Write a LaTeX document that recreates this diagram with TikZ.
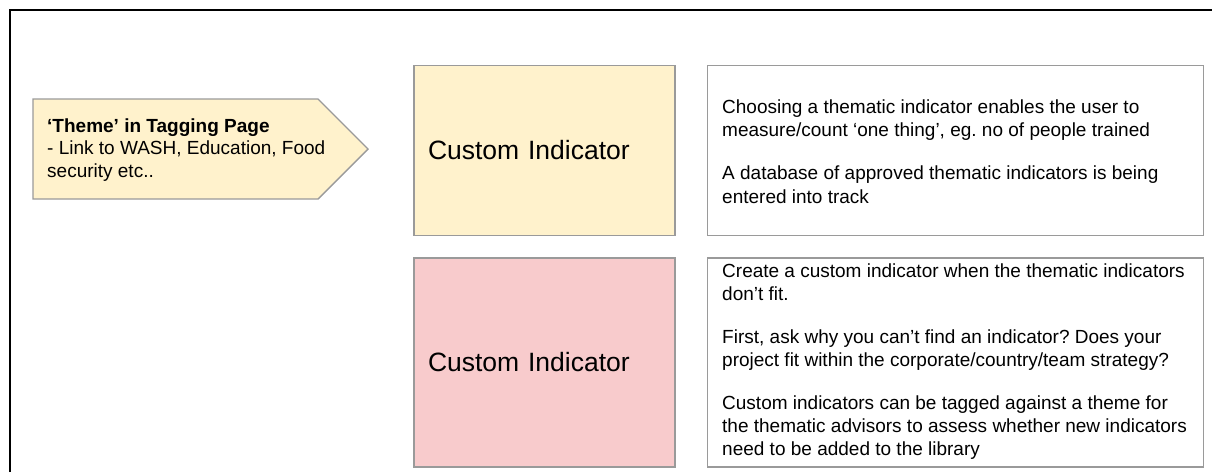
\documentclass[tikz,border=0pt]{standalone}
\usepackage{fontspec}
\setmainfont{Liberation Sans}[Ligatures=ResetAll]
\frenchspacing
\definecolor{paleyellow}{HTML}{FFF2CC}
\definecolor{palepink}{HTML}{F8CBCC}
\definecolor{boxgray}{HTML}{9A9A9A}
\tikzset{
  frame/.style={draw=black, line width=1.3pt},
  boxborder/.style={draw=boxgray, line width=1.4pt},
  colorbox/.style={boxborder, rectangle, minimum width=261pt, minimum height=170pt,
    inner xsep=14pt, text width=233pt, align=left, font=\fontsize{26.5}{30}\selectfont},
  plainbox/.style={boxborder, rectangle, fill=white, minimum width=496pt, inner sep=0pt},
  bodytext/.style={inner sep=0pt, align=left, anchor=west, font=\fontsize{19}{23.3}\selectfont}
}
\begin{document}
\begin{tikzpicture}[x=1pt,y=-1pt]
\useasboundingbox (0,0) rectangle (1212,472);
\fill[white] (0,0) rectangle (1212,472);
% outer frame (only top and left edges visible)
\coordinate (fbl) at (10,472);
\coordinate (ftl) at (10,10);
\coordinate (ftr) at (1212,10);
\draw[frame] (fbl) -- (ftl) -- (ftr);

% arrow-shaped tag
\coordinate (a1) at (33,99);
\coordinate (a2) at (318,99);
\coordinate (a3) at (368,149);
\coordinate (a4) at (318,199);
\coordinate (a5) at (33,199);
\filldraw[boxborder, fill=paleyellow, line join=miter] (a1) -- (a2) -- (a3) -- (a4) -- (a5) -- cycle;
\node[bodytext, font=\fontsize{19}{22.3}\selectfont] (tag) at (47,150)
  {\textbf{‘Theme’ in Tagging Page}\\- Link to WASH, Education, Food\\security etc..};

% top row
\node[colorbox, fill=paleyellow] (ci1) at (544.5,150.5) {Custom Indicator};
\node[plainbox, minimum height=170pt] (tb1) at (955.5,150.5) {};
\node[bodytext] (tt1) at (722,151.5)
  {Choosing a thematic indicator enables the user to\\
   measure/count ‘one thing’, eg. no of people trained\\[20pt]
   A database of approved thematic indicators is being\\
   entered into track};

% bottom row
\node[colorbox, fill=palepink, minimum height=209pt] (ci2) at (544.5,362.5) {Custom Indicator};
\node[plainbox, minimum height=209pt] (tb2) at (955.5,362.5) {};
\node[bodytext] (tt2) at (722,361.5)
  {Create a custom indicator when the thematic indicators\\
   don't fit.\\[19.5pt]
   First, ask why you can't find an indicator? Does your\\
   project fit within the corporate/country/team strategy?\\[19.5pt]
   Custom indicators can be tagged against a theme for\\
   the thematic advisors to assess whether new indicators\\
   need to be added to the library};
\end{tikzpicture}
\end{document}
